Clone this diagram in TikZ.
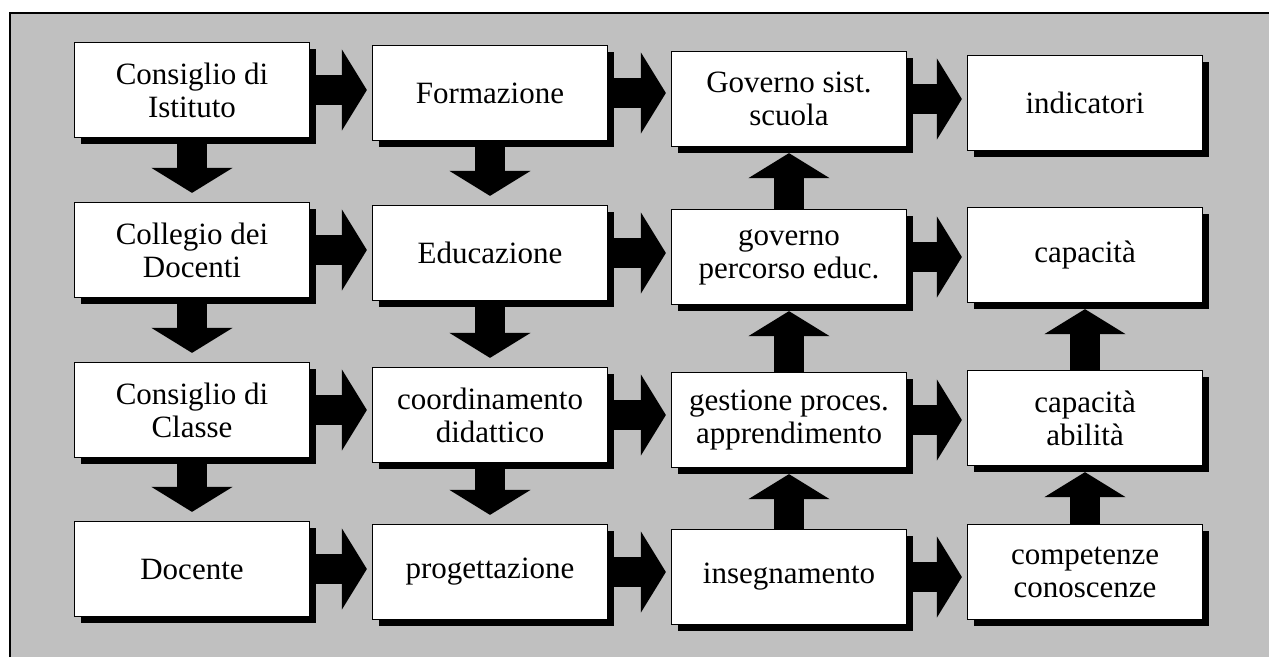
\documentclass[tikz,border=0pt]{standalone}
\usepackage{fontspec}
\setmainfont{Liberation Serif}
\usetikzlibrary{arrows.meta,shadows}
\definecolor{panel}{RGB}{192,192,192}

\begin{document}
\begin{tikzpicture}[x=1pt,y=-1pt,
 box/.style={rectangle,draw=black,line width=1.2pt,fill=white,minimum width=235pt,minimum height=95pt,inner sep=2pt,align=center,
   font=\fontsize{31}{33}\selectfont,drop shadow={shadow xshift=6pt,shadow yshift=-6pt,fill=black,opacity=1}},
 bigarrow/.style={line width=30pt,-{Triangle[width=80pt,length=25pt]},shorten >=#1},
 bigarrow/.default=6pt,
]
    \useasboundingbox (0,0) rectangle (1269,657);
    \fill[panel] (10,13) rectangle (1269,657);
    \draw[line width=2.5pt] (10,657) -- (10,13) -- (1269,13);
    % first column
    \node[box] (ci) at (192,90) {Consiglio di\\Istituto};
    \node[box] (cd) at (192,250) {Collegio dei\\Docenti};
    \node[box] (cc) at (192,410) {Consiglio di\\Classe};
    \node[box] (doc) at (192,569) {Docente};
    % second column
    \node[box] (form) at (490,93) {Formazione};
    \node[box] (edu) at (490,253) {Educazione};
    \node[box] (coord) at (490,415) {coordinamento\\didattico};
    \node[box] (prog) at (490,572) {progettazione};
    % third column
    \node[box] (gov) at (789,99) {Governo sist.\\scuola};
    \node[box] (perc) at (789,257) {governo\\percorso educ.};
    \node[box] (gest) at (789,420) {gestione proces.\\apprendimento};
    \node[box] (ins) at (789,577) {insegnamento};
    % fourth column
    \node[box] (ind) at (1085,103) {indicatori};
    \node[box] (cap) at (1085,255) {capacità};
    \node[box] (abil) at (1085,418) {capacità\\abilità};
    \node[box] (comp) at (1085,572) {competenze\\conoscenze};
    % arrows
    \foreach \a/\b in {ci/form,form/gov,gov/ind,cd/edu,edu/perc,perc/cap,cc/coord,coord/gest,gest/abil,doc/prog,prog/ins,ins/comp}
      \draw[bigarrow=5pt] (\a.east) -- (\a.east -| \b.west);
    \foreach \a/\b in {ci/cd,cd/cc,cc/doc,form/edu,edu/coord,coord/prog}
      \draw[bigarrow=9pt] (\a.south) -- (\b.north);
    \foreach \a/\b in {ins/gest,gest/perc,perc/gov,comp/abil,abil/cap}
      \draw[bigarrow] (\a.north) -- (\b.south);
\end{tikzpicture}
\end{document}
